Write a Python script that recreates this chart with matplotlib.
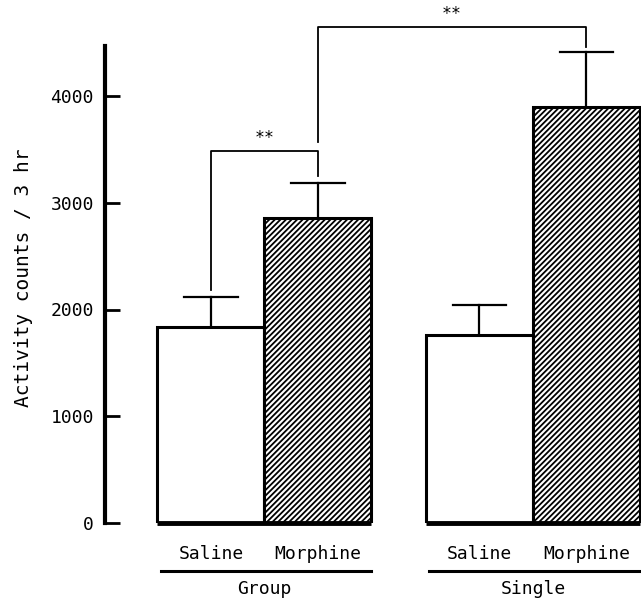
import matplotlib
matplotlib.use("Agg")
import matplotlib.pyplot as plt

# Data
groups = ["Group", "Single"]
treatments = ["Saline", "Morphine"]
means = [1836, 2857, 1761, 3897]
errors = [281, 328, 281, 515]
positions = [0, 1, 2.51, 3.51]
yticks = [0, 1000, 2000, 3000, 4000]
sig_labels = ["**", "**"]

plt.rcParams['hatch.linewidth'] = 1.3
font = "DejaVu Sans Mono"

W, H = 641, 598
fig = plt.figure(figsize=(W / 100, H / 100), dpi=100)
px_per_unit = 427 / 4000
y_bottom_px = 523
y_top_px = 5
ymax = (y_bottom_px - y_top_px) / px_per_unit
ax = fig.add_axes([105 / W, (H - y_bottom_px) / H, 1 - 105 / W, (y_bottom_px - y_top_px) / H])
ax.set_ylim(0, ymax)
ax.set_xlim(-0.99, 4.02)

hatches = ["", "//////", "", "//////"]
for x, m, e, h in zip(positions, means, errors, hatches):
    ax.bar(x, m, width=1.0, color="white", edgecolor="black", linewidth=2.2, hatch=h, zorder=2)
    ax.plot([x, x], [m, m + e], color="black", lw=1.6, zorder=3, clip_on=False)
    ax.plot([x - 0.25, x + 0.25], [m + e, m + e], color="black", lw=1.6, zorder=3, clip_on=False)

# thick base line under each group
for i in range(2):
    x0 = positions[2 * i] - 0.5
    x1 = positions[2 * i + 1] + 0.5
    ax.plot([x0, x1], [0, 0], color="black", lw=3.5, solid_capstyle="butt", zorder=4, clip_on=False)

# significance brackets
def bracket(xa, xb, ya, yb, ytop, label):
    ax.plot([xa, xa, xb, xb], [ya, ytop, ytop, yb], color="black", lw=1.3, zorder=3, clip_on=False)
    ax.text((xa + xb) / 2, ytop + 40, label, ha="center", va="bottom", fontsize=12,
            family=font, clip_on=False)

bracket(positions[0], positions[1], means[0] + errors[0] + 65, means[1] + errors[1] + 65, 3485, sig_labels[0])
bracket(positions[1], positions[3], 3570, means[3] + errors[3] + 50, 4646, sig_labels[1])

# axes styling
for s in ["top", "right", "bottom"]:
    ax.spines[s].set_visible(False)
ax.spines["left"].set_linewidth(3)
ax.spines["left"].set_bounds(0, 4470)
ax.set_yticks(yticks)
ax.set_yticklabels([str(t) for t in yticks], family=font, fontsize=13)
ax.tick_params(axis="y", direction="in", length=11, width=2, pad=8)
ax.set_xticks([])
ax.set_ylabel("Activity counts / 3 hr", family=font, fontsize=14)
ax.yaxis.set_label_coords(-(105 - 33) / (W - 105), (y_bottom_px - 278) / (y_bottom_px - y_top_px))

# category labels
for x, lab in zip(positions, treatments * 2):
    ax.text(x, -290, lab, ha="center", va="center", fontsize=13, family=font, clip_on=False)
for i, g in enumerate(groups):
    x0 = positions[2 * i] - 0.47
    x1 = positions[2 * i + 1] + 0.5
    ax.plot([x0, x1], [-450, -450], color="black", lw=2.2, clip_on=False)
    ax.text((positions[2 * i] + positions[2 * i + 1]) / 2, -620, g, ha="center", va="center",
            fontsize=13, family=font, clip_on=False)

fig.savefig("out.png", dpi=100)
